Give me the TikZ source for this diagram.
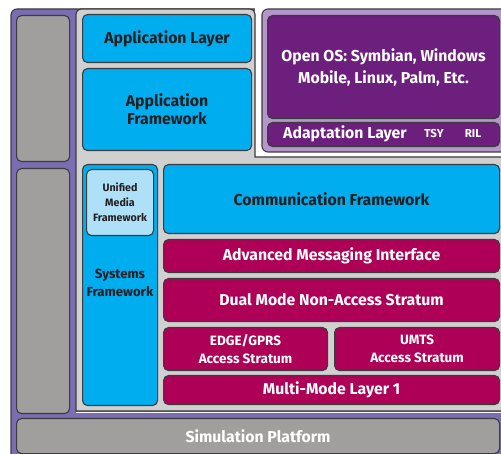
\documentclass[tikz,border=0pt]{standalone}
\usepackage{fontspec}
\setmainfont{Fira Sans}
\definecolor{cblue}{HTML}{00ADEF}
\definecolor{cpink}{HTML}{AE0056}
\definecolor{cdpurple}{HTML}{6C1F7D}
\definecolor{clpurple}{HTML}{B596C8}
\definecolor{cframe}{HTML}{7A6DB1}
\definecolor{cgraybox}{HTML}{A19F9D}
\definecolor{ccont}{HTML}{D0D0D0}
\definecolor{clblue}{HTML}{AEE1F8}
\definecolor{cedge}{HTML}{3C3C3E}
\definecolor{ctext}{HTML}{231F20}
\begin{document}
\begin{tikzpicture}[x=1pt,y=-1pt,
  blk/.style={draw=cedge,line width=1.1pt,rounded corners=5pt,inner sep=0pt,align=center,anchor=north west,font=\bfseries\fontsize{15.8}{18}\selectfont},
  bluebox/.style={blk,fill=cblue,text=ctext},
  pinkbox/.style={blk,fill=cpink,text=white},
  purplebox/.style={blk,fill=cdpurple,text=white},
  graybox/.style={blk,fill=cgraybox,text=white},
  lbluebox/.style={blk,fill=clblue,text=ctext,font=\bfseries\fontsize{10.7}{15}\selectfont},
  lbl/.style={inner sep=0pt,align=center,font=\bfseries\fontsize{15.8}{18}\selectfont},
  small/.style={inner sep=0pt,font=\bfseries\fontsize{11.5}{12}\selectfont,text=white}
]
\useasboundingbox (0,0) rectangle (501,454);
% outer purple frame
\filldraw[fill=cframe,draw=cedge,line width=1.1pt,rounded corners=6pt] (11,9) rectangle (510,460);
% white notch
\fill[white] (255,0) rectangle (510,157);
% gray container (L-shaped)
\draw[white,line width=1.5pt] (76,412.5) -- (510,412.5);
\filldraw[fill=ccont,draw=cedge,line width=1.1pt,rounded corners=5pt] (76,9) -- (255,9) [sharp corners] -- (255,157) -- (510,157) -- (510,411) -- (76,411) [rounded corners=5pt] -- cycle;
% OS panel
\filldraw[fill=clpurple,draw=cedge,line width=1.1pt,rounded corners=6pt] (262,9) rectangle (510,152);
% left gray boxes
\node[graybox,minimum width=53pt,minimum height=146pt] (lg1) at (16,15) {};
\node[graybox,minimum width=53pt,minimum height=245pt] (lg2) at (16,168) {};
% application
\node[bluebox,minimum width=169pt,minimum height=48pt] (applayer) at (82,14) {Application Layer};
\node[bluebox,minimum width=169pt,minimum height=82pt] (appfw) at (82,68) {Application\\Framework};
% OS
\node[purplebox,minimum width=232pt,minimum height=103pt,font=\bfseries\fontsize{15.8}{22}\selectfont] (os) at (267,15) {Open OS: Symbian, Windows\\Mobile, Linux, Palm, Etc.};
\node[purplebox,minimum width=232pt,minimum height=24pt] (adapt) at (267,122) {};
\node[lbl,text=white,anchor=west] (adaptlbl) at (283,133.5) {Adaptation Layer};
\node[small] (tsy) at (434,133.5) {TSY};
\node[small] (ril) at (473,133.5) {RIL};
% systems framework
\node[bluebox,minimum width=75pt,minimum height=241pt] (sysfw) at (82,164) {};
\node[lbl,text=ctext,font=\bfseries\fontsize{13.2}{18}\selectfont] (syslbl) at (120,283) {Systems\\Framework};
\node[lbluebox,minimum width=67pt,minimum height=66pt] (umf) at (86,169) {Unified\\Media\\Framework};
% comm stack
\node[bluebox,minimum width=336pt,minimum height=69pt] (comm) at (163,164) {Communication Framework};
\node[pinkbox,minimum width=336pt,minimum height=33pt] (ami) at (163,239) {Advanced Messaging Interface};
\node[pinkbox,minimum width=336pt,minimum height=43pt] (dual) at (163,278) {Dual Mode Non-Access Stratum};
\node[pinkbox,minimum width=164pt,minimum height=43pt,font=\bfseries\fontsize{13.5}{18}\selectfont] (edge) at (163,327) {EDGE/GPRS\\Access Stratum};
\node[pinkbox,minimum width=165pt,minimum height=43pt,font=\bfseries\fontsize{13.5}{18}\selectfont] (umts) at (334,327) {UMTS\\Access Stratum};
\node[pinkbox,minimum width=336pt,minimum height=29pt] (mml1) at (163,375) {Multi-Mode Layer 1};
% simulation
\node[graybox,minimum width=483pt,minimum height=35pt] (sim) at (16,418) {Simulation Platform};
\end{tikzpicture}
\end{document}
